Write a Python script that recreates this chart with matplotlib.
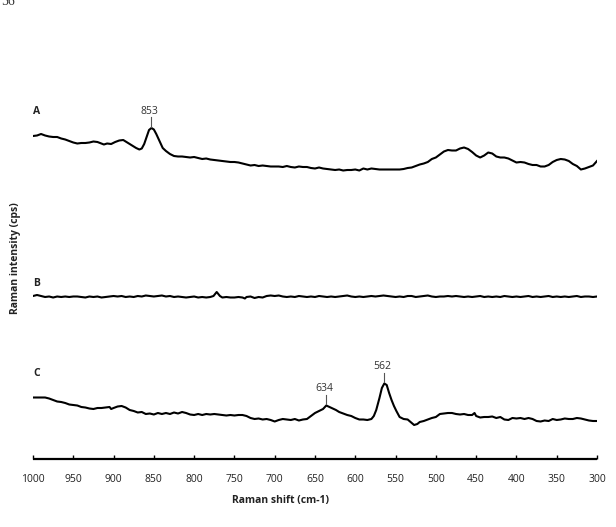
import numpy as np
import matplotlib
matplotlib.use("Agg")
import matplotlib.pyplot as plt

plt.rcParams["font.family"] = ["Open Sans", "DejaVu Sans"]

# spectrum A (arbitrary counts)
wn_a = [1000, 995, 990, 985, 980, 975, 970, 965, 960, 955, 950, 945, 940, 935, 930,
        925, 920, 915, 912, 908, 903, 898, 893, 888, 884, 880, 876, 872, 868, 865,
        862, 859, 856, 853, 850, 847, 843, 839, 835, 830, 825, 820, 815, 810, 805,
        800, 795, 790, 785, 780, 775, 770, 765, 760, 755, 750, 745, 740, 735, 730,
        725, 720, 715, 710, 705, 700, 695, 690, 685, 680, 675, 670, 665, 660, 655,
        650, 645, 640, 635, 630, 625, 620, 615, 610, 605, 600, 595, 590, 585, 580,
        575, 570, 565, 560, 555, 550, 545, 540, 535, 530, 525, 520, 515, 510, 505,
        500, 495, 490, 485, 480, 475, 470, 465, 460, 455, 450, 445, 440, 435, 430,
        425, 420, 415, 410, 405, 400, 395, 390, 385, 380, 375, 370, 365, 360, 355,
        350, 345, 340, 335, 330, 325, 320, 315, 310, 305, 300]
int_a = [34, 34.5, 36, 34.5, 33.5, 33, 33, 31.5, 30.5, 29, 27.5, 26.5, 27, 27, 27.5,
         28.5, 28, 26.5, 25.5, 26.5, 26, 28, 29.5, 30, 28, 26, 24, 22, 20.5, 21.5,
         26, 33, 40, 42, 40.5, 36, 29, 22, 19, 16, 14, 13.5, 13.5, 13, 12.5,
         13, 12, 11, 11.5, 10.5, 10, 9.5, 9, 8.5, 8, 8, 7.5, 6.5, 5.5, 4.5,
         5, 4, 4.5, 4, 3.5, 3.5, 3.5, 3, 4, 3, 2.5, 3.5, 3, 3, 2,
         1.5, 2.5, 1.5, 1, 0.5, 0, 0.5, -0.5, 0, 0, 0.5, -0.5, 1.5, 0.5, 1.5,
         1, 0.5, 0.5, 0.5, 0.5, 0.5, 0.5, 1, 2, 2.5, 4, 5.5, 6.5, 8, 11,
         12.5, 15.5, 18.5, 20, 19.5, 19.5, 21.5, 22.5, 21, 18, 14.5, 12.5, 14.5, 17.5, 16.5,
         13.5, 12.5, 12.5, 11.5, 9.5, 7.5, 8, 7.5, 6, 5, 5, 3.5, 3.5, 5, 8,
         10, 11, 10.5, 9, 6, 4, 0.5, 1.5, 3, 4.5, 9]

# spectrum B
wn_b = [1000, 995, 990, 985, 980, 975, 970, 965, 960, 955, 950, 945, 940, 935, 930,
        925, 920, 915, 910, 905, 900, 895, 890, 885, 880, 875, 870, 865, 860, 855,
        850, 845, 840, 835, 830, 825, 820, 815, 810, 805, 800, 795, 790, 785, 780,
        776, 772, 768, 765, 760, 755, 750, 745, 740, 737, 735, 730, 725, 720, 715,
        710, 705, 700, 695, 690, 685, 680, 675, 670, 665, 660, 655, 650, 645, 640,
        635, 630, 625, 620, 615, 610, 605, 600, 595, 590, 585, 580, 575, 570, 565,
        560, 555, 550, 545, 540, 535, 530, 525, 520, 515, 510, 505, 500, 495, 490,
        485, 480, 475, 470, 465, 460, 455, 450, 445, 440, 435, 430, 425, 420, 415,
        410, 405, 400, 395, 390, 385, 380, 375, 370, 365, 360, 355, 350, 345, 340,
        335, 330, 325, 320, 315, 310, 305, 300]
int_b = [4, 5, 4, 3, 3.5, 2.5, 3.5, 3, 3.5, 3, 3.5, 3.5, 3, 2.5, 3.5,
         3, 3.5, 2.5, 3, 3.5, 4, 3.5, 4, 3, 3.5, 3, 4, 3.5, 4.5, 4,
         3.5, 4, 4.5, 3.5, 4, 3, 3.5, 3, 2.5, 3, 3.5, 2.5, 3, 2.5, 3,
         4, 8, 4, 2.5, 3, 2.5, 2.5, 3, 2.5, 1.5, 3, 3.5, 2, 3, 2.5,
         4, 4.5, 4, 4.5, 3.5, 3, 3.5, 3, 4, 3.5, 3, 3.5, 3, 4, 3.5,
         3, 3.5, 3, 3.5, 4, 4.5, 3.5, 3, 3.5, 3, 3.5, 4, 3.5, 4, 4.5,
         4, 3.5, 3, 3.5, 3, 4, 4, 3, 3.5, 4, 4.5, 3.5, 3, 3.5, 3.5,
         4, 3.5, 4, 3.5, 3, 3.5, 3, 3.5, 4, 3, 3.5, 3, 3.5, 3, 4,
         3.5, 3, 3.5, 3, 3.5, 4, 3, 3.5, 3, 3.5, 4, 3, 3.5, 3, 3.5,
         3, 3.5, 4, 3, 3.5, 3.5, 3, 3.5]

# spectrum C
wn_c = [1000, 995, 990, 985, 980, 975, 970, 965, 960, 955, 950, 945, 940, 935, 930,
        925, 920, 915, 910, 905, 903, 900, 895, 890, 885, 880, 875, 870, 865, 860,
        855, 850, 845, 840, 835, 830, 825, 820, 815, 810, 805, 800, 795, 790, 785,
        780, 775, 770, 765, 760, 755, 750, 745, 740, 735, 730, 725, 720, 715, 710,
        705, 700, 695, 690, 685, 680, 675, 670, 665, 660, 655, 650, 645, 640, 636,
        632, 628, 624, 620, 615, 610, 605, 600, 595, 590, 585, 580, 577, 574, 570,
        567, 564, 561, 558, 555, 552, 549, 545, 540, 535, 530, 527, 523, 520, 515,
        510, 505, 500, 495, 490, 485, 480, 475, 470, 465, 460, 455, 452, 450, 445,
        440, 435, 430, 425, 420, 415, 410, 405, 400, 395, 390, 385, 380, 375, 370,
        365, 360, 355, 350, 345, 340, 335, 330, 325, 320, 315, 310, 305, 300]
int_c = [28.5, 28.5, 28.5, 28.5, 27.5, 26, 24.5, 24, 23, 21.5, 21, 20.5, 19, 18.5, 17.5,
         17, 18, 18, 18.5, 19, 17, 18, 19.5, 20, 18.5, 16, 15, 13.5, 14, 12,
         12.5, 11.5, 13, 12, 13, 12, 13.5, 12.5, 14, 13, 11.5, 11, 12, 11, 12,
         11.5, 12, 11.5, 11, 10.5, 11, 10.5, 11, 11, 10, 8, 7, 7.5, 6.5, 7,
         6, 4.5, 6, 7, 6.5, 6, 7, 5.5, 6.5, 7, 10, 13, 15, 17, 20.5,
         19, 17.5, 16, 14, 12.5, 11, 10, 8, 6.5, 6.5, 6, 7, 10, 16, 28,
         38, 42.5, 41, 33, 26, 20, 15, 9, 7, 6.5, 3, 1, 2, 4, 5,
         6.5, 8, 9, 12, 12.5, 13, 13, 12, 11.5, 12, 11, 11, 13, 10, 8.5,
         9, 9, 9.5, 8, 9, 6.5, 6, 8, 7.5, 8, 7, 8, 7, 5, 4.5,
         5.5, 5, 7, 6, 6.5, 7.5, 7, 7, 8, 7.5, 6.5, 5.5, 5, 5]

labels = ["A", "B", "C"]
peaks = [(853, 0), (634, 2), (562, 2)]  # (label, spectrum index)
xticks = list(range(1000, 299, -50))

offsets = [289, 159, 33]
spectra = [(wn_a, int_a), (wn_b, int_b), (wn_c, int_c)]

fig = plt.figure(figsize=(6.16, 5.27), dpi=100)
ax = fig.add_axes([33 / 616, 68 / 527, 564 / 616, 400 / 527])

for (wn, val), off, lab in zip(spectra, offsets, labels):
    wn = np.array(wn)
    y = np.array(val) + off
    ax.plot(wn, y, color="black", lw=1.5, solid_joinstyle="round")
    ax.text(1000, y[0] + 24 if lab != "B" else y[0] + 12, lab,
            fontsize=7.5, fontweight="bold", ha="left", va="center", color="#222222")

for lab, k in peaks:
    wn = np.array(spectra[k][0])
    y = np.array(spectra[k][1]) + offsets[k]
    near = np.abs(wn - lab) < 12
    i = np.argmax(np.where(near, y, -1e9))
    top = y[i]
    ax.plot([wn[i], wn[i]], [top + 1.5, top + 11], color="#555555", lw=0.8)
    ax.text(wn[i] + 2, top + 17, str(lab), fontsize=7.5, ha="center",
            va="center", color="#333333")

ax.set_xlim(1000, 300)
ax.set_ylim(0, 400)
ax.set_xticks(xticks)
ax.set_yticks([])
for s in ["top", "right", "left"]:
    ax.spines[s].set_visible(False)
ax.spines["bottom"].set_linewidth(1.6)
ax.spines["bottom"].set_capstyle("butt")
ax.tick_params(axis="x", direction="in", length=3, width=1.0, pad=11,
               labelsize=7.5, colors="black", labelcolor="#222222")

fig.text(280 / 616, 1 - 501 / 527, "Raman shift (cm-1)", fontsize=7.5,
         fontweight="bold", ha="center", va="center", color="#222222")
fig.text(16 / 616, 1 - 258 / 527, "Raman intensity (cps)", fontsize=7.5,
         fontweight="bold", ha="center", va="center", rotation=90, color="#222222")
fig.text(1 / 616, 1 - 5 / 527, "56", fontsize=10, family="Liberation Serif",
         ha="left", va="baseline", color="#333333")

fig.savefig("out.png", dpi=100)
